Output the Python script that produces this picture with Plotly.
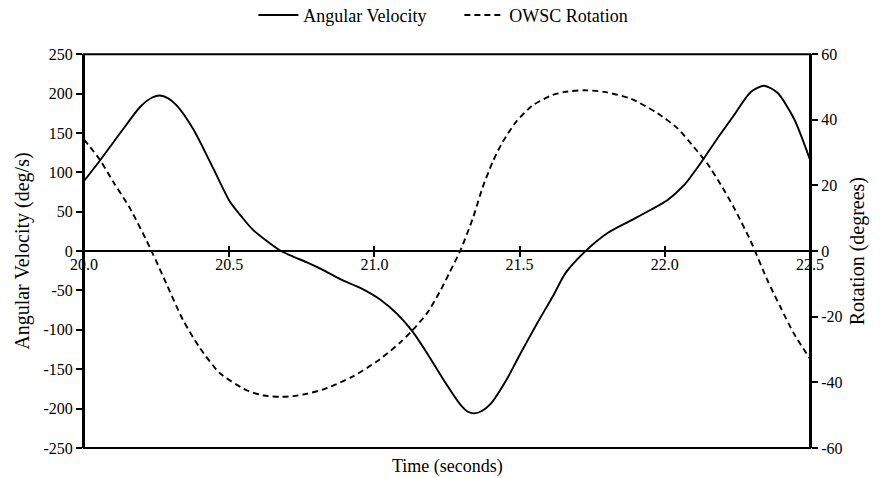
import plotly.graph_objects as go

# ---- data ----
t_av = [20.00, 20.057, 20.135, 20.193, 20.235, 20.261, 20.29, 20.319, 20.376, 20.445,
        20.502, 20.542, 20.582, 20.674, 20.72, 20.766, 20.829, 20.884, 20.953, 21.022,
        21.079, 21.131, 21.182, 21.239, 21.296, 21.322, 21.344, 21.37, 21.40, 21.457,
        21.503, 21.56, 21.618, 21.658, 21.727, 21.803, 21.884, 21.952, 22.01, 22.067,
        22.124, 22.181, 22.239, 22.296, 22.342, 22.388, 22.445, 22.50]
ang_vel = [89, 116, 155, 183, 195, 197.6, 194, 185, 155, 105,
           63, 44, 27, 1, -7, -14, -25, -36, -47, -62,
           -80, -102, -130, -164, -195, -204, -206, -203, -194, -162,
           -130, -92, -55, -28, 0, 23, 39, 52.5, 65, 84,
           112, 143, 173, 202, 210, 201, 168, 116]

t_rot = [20.00, 20.055, 20.10, 20.158, 20.23, 20.284, 20.341, 20.399, 20.468, 20.56,
         20.62, 20.674, 20.72, 20.766, 20.829, 20.926, 21.018, 21.087, 21.127, 21.179,
         21.224, 21.259, 21.295, 21.339, 21.373, 21.408, 21.442, 21.488, 21.545, 21.614,
         21.655, 21.723, 21.792, 21.884, 21.975, 22.044, 22.101, 22.147, 22.193, 22.239,
         22.296, 22.353, 22.399, 22.445, 22.50]
rotation = [34, 27.8, 21.2, 13.1, 0.5, -10, -21, -29.5, -37.2, -42.4,
            -44, -44.4, -44.2, -43.5, -42, -38.2, -33, -28, -24.5, -19.2,
            -12.6, -6.5, 0, 10, 19.5, 27.3, 33.3, 39.4, 44.4, 47.6,
            48.5, 49, 48.5, 46.4, 42, 37.4, 31.6, 26.6, 20.2, 13.1,
            3, -8.8, -17.2, -25.2, -32.8]

x_ticks = [20.0, 20.5, 21.0, 21.5, 22.0, 22.5]
x_ticklabels = ["20.0", "20.5", "21.0", "21.5", "22.0", "22.5"]
y_ticks = list(range(-250, 251, 50))
y_ticklabels = [str(v) for v in y_ticks]
y2_ticks = list(range(-60, 61, 20))
y2_ticklabels = [str(v) for v in y2_ticks]

FONT = "Liberation Serif"
BLACK = "#000000"


def f(size):
    return dict(family=FONT, size=size, color=BLACK)


fig = go.Figure()
fig.add_trace(go.Scatter(
    x=t_av, y=ang_vel, name="Angular Velocity", mode="lines",
    line=dict(color=BLACK, width=1.9, shape="spline", smoothing=0.7),
    xaxis="x", yaxis="y"))
fig.add_trace(go.Scatter(
    x=t_rot, y=rotation, name="OWSC Rotation", mode="lines",
    line=dict(color=BLACK, width=1.9, dash="6px,4px", shape="spline", smoothing=0.7),
    xaxis="x2", yaxis="y2"))

xr = [20.0, 22.5]
fig.update_layout(
    width=880, height=478,
    margin=dict(l=84, r=70, t=51, b=30),
    paper_bgcolor="white", plot_bgcolor="white",
    font=f(16),
    showlegend=True,
    legend=dict(orientation="h", x=0.522, xanchor="center", xref="container",
                y=0.968, yanchor="middle", yref="container",
                font=f(18), bgcolor="rgba(0,0,0,0)", itemwidth=40, entrywidth=151),
    xaxis=dict(range=xr, anchor="free", position=0.5, tickvals=x_ticks,
               ticktext=x_ticklabels, ticks="outside", ticklen=5, tickwidth=1.5,
               tickcolor=BLACK, showline=True, linecolor=BLACK, linewidth=2,
               showgrid=False, zeroline=False, tickfont=f(16), ticklabelstandoff=-6),
    xaxis2=dict(range=xr, overlaying="x", anchor="free", position=0.5,
                tickvals=x_ticks, ticks="inside", ticklen=5, tickwidth=1.5,
                tickcolor=BLACK, showticklabels=False, showline=False,
                showgrid=False, zeroline=False),
    yaxis=dict(range=[-250, 250], tickvals=y_ticks, ticktext=y_ticklabels,
               ticks="outside", ticklen=6,
               tickwidth=1.5, tickcolor=BLACK, showline=True, linecolor=BLACK,
               linewidth=2, showgrid=False, zeroline=False, tickfont=f(16),
               title=dict(text="Angular Velocity (deg/s)", font=f(20), standoff=8)),
    yaxis2=dict(range=[-60, 60], tickvals=y2_ticks, ticktext=y2_ticklabels,
                overlaying="y", side="right",
                anchor="x", ticks="outside", ticklen=6, tickwidth=1.5, tickcolor=BLACK,
                showline=True, linecolor=BLACK, linewidth=2, showgrid=False,
                zeroline=False, tickfont=f(16),
                title=dict(text="Rotation (degrees)", font=f(20), standoff=8)),
    shapes=[dict(type="rect", xref="paper", yref="paper", x0=0, x1=1, y0=0, y1=1,
                 line=dict(color=BLACK, width=2), layer="above")],
    annotations=[dict(text="Time (seconds)", xref="paper", yref="paper", x=0.5, y=0,
                      xanchor="center", yanchor="top", yshift=-6, showarrow=False,
                      font=f(18))],
)

fig.write_html("out.html")
